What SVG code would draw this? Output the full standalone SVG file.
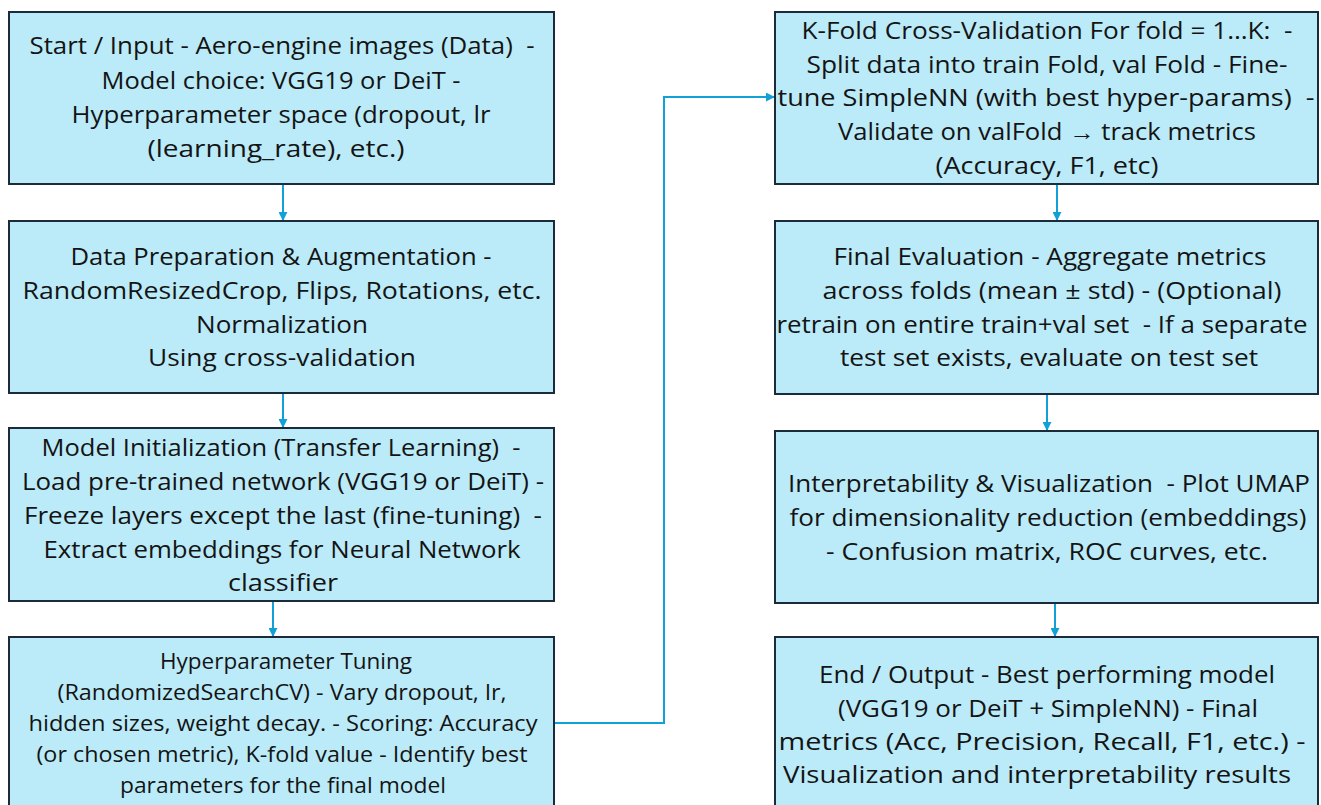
<svg xmlns="http://www.w3.org/2000/svg" width="1321" height="805" viewBox="0 0 1321 805" xml:space="preserve">
<defs>
<style>
.box{fill:#bbebf9;stroke:#1c2b3a;stroke-width:2}
.t{font-family:"Open Sans","Liberation Sans",sans-serif;font-size:23px;fill:#141414;text-anchor:middle;white-space:pre}
.s{font-size:21px}
.c{fill:none;stroke:#12a0d8;stroke-width:2}
</style>
<marker id="ah" viewBox="0 0 10 10" refX="9" refY="5" markerWidth="9" markerHeight="9" markerUnits="userSpaceOnUse" orient="auto">
<path d="M0,0 L10,5 L0,10 z" fill="#12a0d8"/>
</marker>
</defs>
<rect width="1321" height="805" fill="#ffffff"/>
<g id="connectors">
<line class="c" x1="283" y1="185" x2="283" y2="220" marker-end="url(#ah)"/>
<line class="c" x1="283" y1="394" x2="283" y2="427" marker-end="url(#ah)"/>
<line class="c" x1="273" y1="602" x2="273" y2="636" marker-end="url(#ah)"/>
<polyline class="c" points="555,723 664,723 664,97 774,97" marker-end="url(#ah)"/>
<line class="c" x1="1057" y1="185" x2="1057" y2="220" marker-end="url(#ah)"/>
<line class="c" x1="1047" y1="395" x2="1047" y2="430" marker-end="url(#ah)"/>
<line class="c" x1="1055" y1="604" x2="1055" y2="636" marker-end="url(#ah)"/>
</g>
<g id="n1">
<rect class="box" x="9" y="12" width="545" height="172"/>
<text class="t" x="282" y="54" textLength="505" lengthAdjust="spacingAndGlyphs">Start / Input - Aero-engine images (Data)  -</text>
<text class="t" x="281" y="89" textLength="359" lengthAdjust="spacingAndGlyphs">Model choice: VGG19 or DeiT -</text>
<text class="t" x="281" y="123" textLength="419" lengthAdjust="spacingAndGlyphs">Hyperparameter space (dropout, lr</text>
<text class="t" x="276" y="157" textLength="257" lengthAdjust="spacingAndGlyphs">(learning_rate), etc.)</text>
</g>
<g id="n2">
<rect class="box" x="9" y="221" width="545" height="172"/>
<text class="t" x="281" y="265" textLength="421" lengthAdjust="spacingAndGlyphs">Data Preparation &amp; Augmentation -</text>
<text class="t" x="282" y="299" textLength="519" lengthAdjust="spacingAndGlyphs">RandomResizedCrop, Flips, Rotations, etc.</text>
<text class="t" x="282" y="333" textLength="172" lengthAdjust="spacingAndGlyphs">Normalization</text>
<text class="t" x="282" y="366" textLength="268" lengthAdjust="spacingAndGlyphs">Using cross-validation</text>
</g>
<g id="n3">
<rect class="box" x="9" y="428" width="545" height="173"/>
<text class="t" x="281" y="456" textLength="479" lengthAdjust="spacingAndGlyphs">Model Initialization (Transfer Learning)  -</text>
<text class="t" x="283" y="490" textLength="522" lengthAdjust="spacingAndGlyphs">Load pre-trained network (VGG19 or DeiT) -</text>
<text class="t" x="283" y="524" textLength="518" lengthAdjust="spacingAndGlyphs">Freeze layers except the last (fine-tuning)  -</text>
<text class="t" x="282" y="558" textLength="477" lengthAdjust="spacingAndGlyphs">Extract embeddings for Neural Network</text>
<text class="t" x="283" y="591" textLength="110" lengthAdjust="spacingAndGlyphs">classifier</text>
</g>
<g id="n4">
<rect class="box" x="9" y="637" width="545" height="175"/>
<text class="t s" x="286" y="669" textLength="252" lengthAdjust="spacingAndGlyphs">Hyperparameter Tuning</text>
<text class="t s" x="282" y="700" textLength="449" lengthAdjust="spacingAndGlyphs">(RandomizedSearchCV) - Vary dropout, lr,</text>
<text class="t s" x="283" y="731" textLength="509" lengthAdjust="spacingAndGlyphs">hidden sizes, weight decay. - Scoring: Accuracy</text>
<text class="t s" x="282" y="762" textLength="491" lengthAdjust="spacingAndGlyphs">(or chosen metric), K-fold value - Identify best</text>
<text class="t s" x="283" y="793" textLength="326" lengthAdjust="spacingAndGlyphs">parameters for the final model</text>
</g>
<g id="n5">
<rect class="box" x="775" y="12" width="543" height="172"/>
<text class="t" x="1047" y="39" textLength="491" lengthAdjust="spacingAndGlyphs">K-Fold Cross-Validation For fold = 1…K:  -</text>
<text class="t" x="1047" y="73" textLength="481" lengthAdjust="spacingAndGlyphs">Split data into train Fold, val Fold - Fine-</text>
<text class="t" x="1046" y="106" textLength="537" lengthAdjust="spacingAndGlyphs">tune SimpleNN (with best hyper-params)  -</text>
<text class="t" x="1047" y="140" textLength="418" lengthAdjust="spacingAndGlyphs">Validate on valFold → track metrics</text>
<text class="t" x="1047" y="174" textLength="223" lengthAdjust="spacingAndGlyphs">(Accuracy, F1, etc)</text>
</g>
<g id="n6">
<rect class="box" x="775" y="221" width="543" height="173"/>
<text class="t" x="1050" y="265" textLength="433" lengthAdjust="spacingAndGlyphs">Final Evaluation - Aggregate metrics</text>
<text class="t" x="1052" y="299" textLength="459" lengthAdjust="spacingAndGlyphs">across folds (mean ± std) - (Optional)</text>
<text class="t" x="1042" y="333" textLength="531" lengthAdjust="spacingAndGlyphs">retrain on entire train+val set  - If a separate</text>
<text class="t" x="1049" y="366" textLength="418" lengthAdjust="spacingAndGlyphs">test set exists, evaluate on test set</text>
</g>
<g id="n7">
<rect class="box" x="775" y="431" width="543" height="172"/>
<text class="t" x="1049" y="492" textLength="522" lengthAdjust="spacingAndGlyphs">Interpretability &amp; Visualization  - Plot UMAP</text>
<text class="t" x="1048" y="526" textLength="517" lengthAdjust="spacingAndGlyphs">for dimensionality reduction (embeddings)</text>
<text class="t" x="1047" y="560" textLength="442" lengthAdjust="spacingAndGlyphs">- Confusion matrix, ROC curves, etc.</text>
</g>
<g id="n8">
<rect class="box" x="775" y="637" width="543" height="175"/>
<text class="t" x="1047" y="683" textLength="456" lengthAdjust="spacingAndGlyphs">End / Output - Best performing model</text>
<text class="t" x="1048" y="717" textLength="420" lengthAdjust="spacingAndGlyphs">(VGG19 or DeiT + SimpleNN) - Final</text>
<text class="t" x="1042" y="750" textLength="527" lengthAdjust="spacingAndGlyphs">metrics (Acc, Precision, Recall, F1, etc.) -</text>
<text class="t" x="1037" y="783" textLength="508" lengthAdjust="spacingAndGlyphs">Visualization and interpretability results</text>
</g>
</svg>
